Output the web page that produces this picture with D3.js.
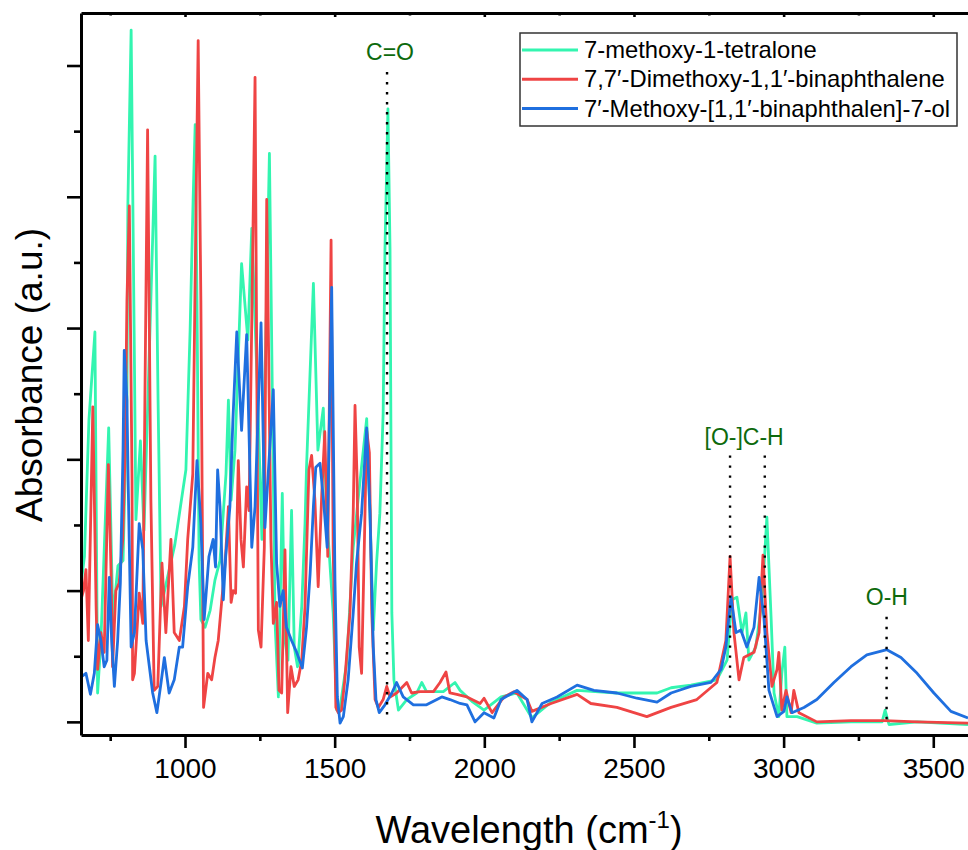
<!DOCTYPE html>
<meta charset="utf-8">
<script src="https://cdn.jsdelivr.net/npm/d3@7/dist/d3.min.js"></script>
<style>
body { margin: 0; background: white; }
text { font-family: "Liberation Sans", Arial, sans-serif; }
.line { fill: none; stroke-width: 2.8px; stroke-linejoin: round; }
.axis path, .axis line { stroke: black; }
</style>
<body>
<div id="chart"></div>
<script>
// series names + colours
var names = ["7-methoxy-1-tetralone", "7,7\u2032-Dimethoxy-1,1\u2032-binaphthalene", "7\u2032-Methoxy-[1,1\u2032-binaphthalen]-7-ol"]
var colors = ["#33f5b0", "#ef4444", "#1f6fdf"]

// [wavenumber cm-1, absorbance a.u.]
var tetralone = [[652,1.04],[664,1.26],[679,2.30],[699,2.97],[708,0.22],[719,0.62],[745,2.24],[759,0.78],[776,1.19],[793,1.23],
  [806,2.45],[809,3.93],[820,5.27],[830,2.98],[836,1.54],[851,2.14],[863,1.46],[876,2.45],[900,4.31],[910,2.45],[920,0.88],
  [966,1.35],[1003,1.92],[1017,2.98],[1027,3.97],[1034,4.55],[1040,3.21],[1047,1.23],[1053,0.78],[1067,0.72],[1084,0.85],
  [1100,1.08],[1117,1.23],[1137,1.89],[1145,2.45],[1154,1.69],[1167,2.07],[1189,3.49],[1210,2.91],[1223,3.76],[1241,2.60],
  [1257,1.39],[1282,4.33],[1301,0.75],[1312,0.19],[1325,1.74],[1334,0.62],[1344,0.47],[1356,1.61],[1365,0.57],[1376,0.42],
  [1390,0.88],[1401,1.51],[1406,1.94],[1429,3.34],[1444,2.07],[1462,2.39],[1473,1.59],[1495,0.83],[1507,0.09],[1518,0.11],
  [1540,0.45],[1562,1.33],[1585,1.84],[1607,2.31],[1618,1.59],[1629,0.70],[1640,1.21],[1651,1.59],[1662,2.35],[1668,3.59],
  [1678,4.67],[1685,3.59],[1691,0.83],[1698,0.32],[1713,0.09],[1741,0.17],[1774,0.22],[1791,0.30],[1807,0.23],[1863,0.23],
  [1902,0.30],[1919,0.24],[1962,0.15],[1999,0.09],[2056,0.19],[2109,0.22],[2159,0.03],[2223,0.15],[2310,0.24],[2443,0.22],
  [2577,0.22],[2624,0.26],[2690,0.28],[2777,0.32],[2811,0.47],[2827,0.93],[2844,0.95],[2861,0.68],[2874,0.83],[2884,0.47],
  [2907,0.57],[2928,0.93],[2944,1.56],[2958,0.80],[2968,0.22],[2984,0.04],[2994,0.37],[3004,0.57],[3011,0.04],[3045,0.04],
  [3111,-0.01],[3225,0.00],[3329,0.00],[3339,0.09],[3352,-0.02],[3446,0.00],[3616,-0.02]]

var dimethoxy = [[652,0.93],[661,1.00],[669,1.16],[677,0.62],[692,2.40],[703,0.88],[708,0.40],[719,0.68],[730,0.53],[744,1.96],
  [753,1.13],[758,0.42],[769,1.00],[780,1.06],[792,1.39],[800,2.07],[806,3.21],[814,3.93],[823,1.84],[825,0.32],[831,0.37],
  [847,0.98],[859,0.75],[866,2.45],[875,4.51],[886,1.69],[897,0.24],[909,0.27],[923,1.21],[936,0.68],[953,1.39],[964,0.68],
  [981,0.62],[998,0.88],[1009,1.39],[1026,1.89],[1037,3.97],[1044,5.19],[1053,3.21],[1062,0.11],[1076,0.37],[1089,0.32],
  [1100,0.49],[1111,0.62],[1123,0.93],[1134,1.21],[1145,1.64],[1154,0.91],[1161,1.00],[1169,0.98],[1178,1.99],[1187,1.39],
  [1195,1.18],[1206,1.79],[1214,1.61],[1224,3.21],[1234,4.91],[1245,0.70],[1254,0.57],[1265,1.33],[1273,3.98],[1287,1.39],
  [1295,0.75],[1306,0.91],[1314,0.24],[1323,0.22],[1334,1.31],[1343,0.07],[1354,0.42],[1365,0.27],[1378,0.32],[1390,0.47],
  [1401,0.88],[1414,1.92],[1423,2.03],[1434,1.69],[1445,1.03],[1457,1.74],[1467,2.21],[1477,1.26],[1488,3.67],[1495,1.33],
  [1504,0.11],[1512,0.07],[1523,0.09],[1534,0.32],[1551,0.83],[1562,1.59],[1568,2.41],[1575,1.84],[1582,0.57],[1590,0.37],
  [1599,1.33],[1607,2.22],[1616,2.05],[1624,0.83],[1635,0.17],[1646,0.11],[1662,0.17],[1674,0.27],[1685,0.19],[1707,0.22],
  [1741,0.30],[1757,0.22],[1785,0.23],[1830,0.23],[1852,0.30],[1872,0.38],[1885,0.22],[1908,0.21],[1942,0.19],[1986,0.14],
  [1999,0.18],[2026,0.07],[2066,0.19],[2099,0.23],[2143,0.17],[2159,0.08],[2223,0.14],[2310,0.21],[2356,0.14],[2443,0.11],
  [2543,0.04],[2624,0.11],[2710,0.17],[2777,0.30],[2807,0.62],[2821,1.26],[2834,0.68],[2851,0.32],[2867,0.49],[2901,0.53],
  [2918,0.68],[2931,1.27],[2944,0.68],[2961,0.27],[2978,0.40],[2984,0.53],[2994,0.09],[3008,0.24],[3025,0.07],[3034,0.24],
  [3051,0.07],[3111,0.00],[3225,0.01],[3335,0.01],[3446,0.00],[3616,-0.01]]

var binaphthol = [[652,0.34],[669,0.37],[684,0.21],[697,0.37],[708,0.74],[719,0.62],[730,0.42],[739,0.47],[747,1.10],[755,0.62],
  [764,0.27],[775,0.62],[784,1.06],[793,2.07],[797,2.83],[806,2.45],[810,1.84],[820,0.57],[831,0.68],[847,1.51],[859,1.31],
  [870,0.62],[881,0.42],[892,0.22],[906,0.07],[920,0.30],[931,0.49],[947,0.22],[964,0.32],[981,0.57],[992,0.57],[1009,1.03],
  [1026,1.33],[1040,1.99],[1053,1.51],[1064,0.78],[1080,1.26],[1094,1.39],[1102,1.18],[1109,1.92],[1117,1.64],[1128,0.93],
  [1136,1.26],[1150,1.64],[1160,2.30],[1173,2.97],[1189,2.22],[1206,2.95],[1223,1.33],[1234,1.64],[1254,3.04],[1267,1.48],
  [1278,1.89],[1295,2.53],[1306,1.21],[1317,0.88],[1328,1.00],[1339,0.72],[1356,0.62],[1373,0.53],[1392,0.41],[1406,0.72],
  [1418,1.13],[1429,1.64],[1437,1.94],[1451,1.97],[1462,1.71],[1475,1.33],[1490,3.31],[1501,1.08],[1509,0.19],[1518,-0.01],
  [1529,0.04],[1545,0.32],[1562,0.83],[1573,1.21],[1590,1.59],[1607,2.24],[1618,1.59],[1629,0.57],[1638,0.17],[1649,0.07],
  [1668,0.13],[1691,0.22],[1707,0.30],[1729,0.19],[1763,0.13],[1807,0.13],[1858,0.19],[1885,0.17],[1919,0.14],[1942,0.13],
  [1969,0.00],[1999,0.07],[2032,0.03],[2056,0.17],[2109,0.24],[2143,0.17],[2159,0.00],[2193,0.14],[2243,0.19],[2310,0.28],
  [2366,0.24],[2443,0.22],[2510,0.18],[2577,0.15],[2624,0.22],[2690,0.27],[2757,0.30],[2791,0.40],[2807,0.57],[2824,0.95],
  [2841,0.68],[2857,0.70],[2877,0.57],[2901,0.72],[2918,1.10],[2934,0.80],[2951,0.24],[2978,0.04],[3001,0.08],[3011,0.19],
  [3028,0.07],[3068,0.11],[3111,0.17],[3168,0.30],[3225,0.42],[3278,0.51],[3345,0.55],[3392,0.49],[3446,0.37],[3502,0.22],
  [3559,0.08],[3616,0.03]]

// tick values
var xMajor = [1000, 1500, 2000, 2500, 3000, 3500]
var xMinor = [750, 1250, 1750, 2250, 2750, 3250]
var yMajor = [0, 1, 2, 3, 4, 5]
var yMinor = [0.5, 1.5, 2.5, 3.5, 4.5]

// band markers (dotted lines) and their labels
var markWn = [1675, 2821, 2937, 3344]
var markTop = [4.95, 2.03, 2.03, 0.80]
var markBottom = [0.03, -0.02, -0.02, -0.01]
var labelText = ["C=O", "[O-]C-H", "O-H"]
var labelWn = [1685, 2868, 3345]
var labelV = [5.04, 2.11, 0.89]

width = 968
height = 850
margin = {top: 13, left: 81, bottom: 115}

svg = d3.select("#chart").append("svg")
  .attr("width", width)
  .attr("height", height)

xScale = d3.scaleLinear()
  .domain([652.5, 3616])
  .range([margin.left, width])

yScale = d3.scaleLinear()
  .domain([-0.1, 5.4])
  .range([height - margin.bottom, margin.top])

svg.append("clipPath").attr("id", "plotClip")
  .append("rect")
  .attr("x", margin.left).attr("y", margin.top)
  .attr("width", width - margin.left).attr("height", height - margin.bottom - margin.top)

// spectra
line = d3.line()
  .x(function(d){ return xScale(d[0]) })
  .y(function(d){ return yScale(d[1]) })

series = [tetralone, dimethoxy, binaphthol]
svg.append("g").attr("clip-path", "url(#plotClip)")
  .selectAll("path")
  .data(series)
  .enter()
  .append("path")
  .attr("class", "line")
  .attr("stroke", function(d, i){ return colors[i] })
  .attr("d", line)

// dotted markers
svg.append("g").selectAll("line")
  .data(markWn)
  .enter()
  .append("line")
  .attr("x1", function(d){ return xScale(d) })
  .attr("x2", function(d){ return xScale(d) })
  .attr("y1", function(d, i){ return yScale(markTop[i]) })
  .attr("y2", function(d, i){ return yScale(markBottom[i]) })
  .attr("stroke", "black")
  .attr("stroke-width", 2.4)
  .attr("stroke-dasharray", "2.4,7.6")

svg.append("g").selectAll("text")
  .data(labelText)
  .enter()
  .append("text")
  .attr("x", function(d, i){ return xScale(labelWn[i]) })
  .attr("y", function(d, i){ return yScale(labelV[i]) })
  .attr("text-anchor", "middle")
  .attr("fill", "#0d6a0d")
  .style("font-size", "23px")
  .text(function(d){ return d })

// axes
var yBase = height - margin.bottom

xAxis = svg.append("g").attr("class", "axis")
  .attr("transform", "translate(0," + yBase + ")")
  .call(d3.axisBottom(xScale).tickValues(xMajor).tickSize(13).tickSizeOuter(0).tickPadding(10).tickFormat(d3.format("d")))
xAxis.selectAll("text").style("font-size", "28px").attr("fill", "black")
xAxis.select("path").attr("stroke-width", 3)
xAxis.selectAll("line").attr("stroke-width", 2.6)

xMinorAxis = svg.append("g").attr("class", "axis")
  .attr("transform", "translate(0," + yBase + ")")
  .call(d3.axisBottom(xScale).tickValues(xMinor).tickSize(6).tickSizeOuter(0).tickFormat(""))
xMinorAxis.select("path").remove()
xMinorAxis.selectAll("line").attr("stroke-width", 2.6)

topAxis = svg.append("g").attr("class", "axis")
  .attr("transform", "translate(0," + margin.top + ")")
  .call(d3.axisTop(xScale).tickValues(xMajor).tickSize(-4).tickSizeOuter(0).tickFormat(""))
topAxis.select("path").attr("stroke-width", 3)
topAxis.selectAll("line").attr("stroke-width", 2.6)
topMinor = svg.append("g").attr("class", "axis")
  .attr("transform", "translate(0," + margin.top + ")")
  .call(d3.axisTop(xScale).tickValues(xMinor).tickSize(-2.5).tickSizeOuter(0).tickFormat(""))
topMinor.select("path").remove()
topMinor.selectAll("line").attr("stroke-width", 2.6)

yAxis = svg.append("g").attr("class", "axis")
  .attr("transform", "translate(" + margin.left + ",0)")
  .call(d3.axisLeft(yScale).tickValues(yMajor).tickSize(14).tickSizeOuter(0).tickFormat(""))
yAxis.select("path").attr("stroke-width", 3)
yAxis.selectAll("line").attr("stroke-width", 2.6)

yMinorAxis = svg.append("g").attr("class", "axis")
  .attr("transform", "translate(" + margin.left + ",0)")
  .call(d3.axisLeft(yScale).tickValues(yMinor).tickSize(7).tickSizeOuter(0).tickFormat(""))
yMinorAxis.select("path").remove()
yMinorAxis.selectAll("line").attr("stroke-width", 2.6)

// axis titles
xTitle = svg.append("text")
  .attr("x", 529)
  .attr("y", 843)
  .attr("text-anchor", "middle")
  .style("font-size", "38px")
xTitle.append("tspan").text("Wavelength (cm")
xTitle.append("tspan").text("-1").style("font-size", "24px").attr("dy", -15)
xTitle.append("tspan").text(")").attr("dy", 15)

svg.append("text")
  .attr("transform", "translate(42,375) rotate(-90)")
  .attr("text-anchor", "middle")
  .style("font-size", "37px")
  .text("Absorbance (a.u.)")

// legend
legend = svg.append("g").attr("transform", "translate(520,33)")
legend.append("rect")
  .attr("width", 437).attr("height", 93)
  .attr("fill", "white").attr("stroke", "#333").attr("stroke-width", 1.5)

rows = legend.selectAll(".row")
  .data(names)
  .enter()
  .append("g")
  .attr("class", "row")
  .attr("transform", function(d, i){ return "translate(0," + (17 + i * 29.3) + ")" })
rows.append("line")
  .attr("x1", 2).attr("x2", 58)
  .attr("stroke", function(d, i){ return colors[i] })
  .attr("stroke-width", 3)
rows.append("text")
  .attr("x", 64).attr("y", 8)
  .style("font-size", "23.8px")
  .text(function(d){ return d })
</script>
</body>
</html>
